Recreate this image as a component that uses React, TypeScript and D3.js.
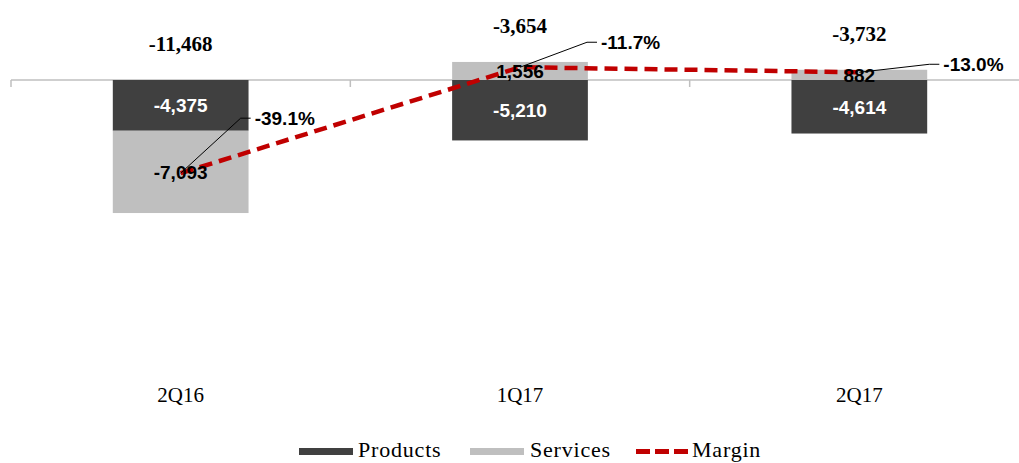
import * as d3 from "d3";
import React from "react";

// quarters and values (USD thousands), margin in %
const quarters = ["2Q16", "1Q17", "2Q17"];
const products = [-4375, -5210, -4614];
const services = [-7093, 1556, 882];
const margin = [-39.1, -11.7, -13.0];

// where Excel had the margin labels dragged to (px from the point)
const marginLabelNudge = [
  [74, -55],
  [81, -25],
  [84, -8],
];

const W = 1019;
const H = 463;
const serif = "'Liberation Serif', 'Times New Roman', serif";
const sans = "'Liberation Sans', Arial, sans-serif";

// excel shows a plain hyphen, not the unicode minus d3 uses
const fmt = (v: number) => d3.format(",")(v).replace("\u2212", "-");
const fmtPct = (v: number) => d3.format(".1f")(v).replace("\u2212", "-") + "%";

export default function App() {
  const x = d3
    .scaleBand<string>()
    .domain(quarters)
    .range([11, 1029])
    .paddingInner(0.6)
    .paddingOuter(0.3);

  const y = d3.scaleLinear().domain([-25000, 5000]).range([370, 22]);
  const y2 = d3.scaleLinear().domain([-90, 0]).range([370, 22]);

  const cx = (q: string) => (x(q) as number) + x.bandwidth() / 2;

  const line = d3
    .line<number>()
    .x((d, i) => cx(quarters[i]))
    .y((d) => y2(d));

  const totals = quarters.map((q, i) => products[i] + services[i]);
  const step = x.step();
  const ticks = d3.range(quarters.length + 1).map((i) => 11 + i * step);

  return (
    <svg
      width={W}
      height={H}
      style={{ position: "absolute", left: 0, top: 0, background: "#fff" }}
    >
      {/* category axis */}
      <line x1={11} x2={W} y1={y(0)} y2={y(0)} stroke="#bfbfbf" strokeWidth={1.5} />
      {ticks.map((t, i) => (
        <line key={i} x1={t} x2={t} y1={y(0)} y2={y(0) + 7} stroke="#bfbfbf" strokeWidth={1.5} />
      ))}

      {/* bars: products go down from zero, services stack after */}
      {quarters.map((q, i) => {
        const p = products[i];
        const s = services[i];
        const sBase = s < 0 ? p : 0;
        return (
          <g key={q}>
            <rect
              x={x(q)}
              width={x.bandwidth()}
              y={y(0)}
              height={y(p) - y(0)}
              fill="#404040"
            />
            <rect
              x={x(q)}
              width={x.bandwidth()}
              y={Math.min(y(sBase), y(sBase + s))}
              height={Math.abs(y(sBase + s) - y(sBase))}
              fill="#bfbfbf"
            />
          </g>
        );
      })}

      {/* margin line */}
      <path
        d={line(margin) || ""}
        fill="none"
        stroke="#c00000"
        strokeWidth={4.5}
        strokeDasharray="13 7"
      />

      {/* bar labels */}
      {quarters.map((q, i) => {
        const p = products[i];
        const s = services[i];
        const sBase = s < 0 ? p : 0;
        const sMid = (y(sBase) + y(sBase + s)) / 2;
        return (
          <g key={q} fontFamily={sans} fontWeight="bold" fontSize={19} textAnchor="middle">
            <text x={cx(q)} y={y(p / 2) + 7} fill="#fff">
              {fmt(p)}
            </text>
            <text x={cx(q)} y={sMid + 7} fill="#000">
              {fmt(s)}
            </text>
          </g>
        );
      })}

      {/* totals */}
      {quarters.map((q, i) => (
        <text
          key={q}
          x={cx(q)}
          y={y(Math.max(0, services[i])) - 29}
          textAnchor="middle"
          fontFamily={serif}
          fontWeight="bold"
          fontSize={21}
        >
          {fmt(totals[i])}
        </text>
      ))}

      {/* margin labels with leader lines */}
      {quarters.map((q, i) => {
        const px = cx(q);
        const py = y2(margin[i]);
        const [dx, dy] = marginLabelNudge[i];
        return (
          <g key={q}>
            <polyline
              points={`${px},${py} ${px + dx - 14},${py + dy} ${px + dx - 4},${py + dy}`}
              fill="none"
              stroke="#000"
              strokeWidth={1}
            />
            <text
              x={px + dx}
              y={py + dy + 7}
              fontFamily={sans}
              fontWeight="bold"
              fontSize={19}
            >
              {fmtPct(margin[i])}
            </text>
          </g>
        );
      })}

      {/* category labels */}
      {quarters.map((q) => (
        <text key={q} x={cx(q)} y={402} textAnchor="middle" fontFamily={serif} fontSize={21}>
          {q}
        </text>
      ))}

      {/* legend */}
      <g fontFamily={serif} fontSize={22} letterSpacing={0.8}>
        <rect x={299} y={448} width={54} height={7} fill="#404040" />
        <text x={358} y={457}>Products</text>
        <rect x={470} y={448} width={54} height={7} fill="#bfbfbf" />
        <text x={530} y={457}>Services</text>
        <line
          x1={636}
          x2={692}
          y1={451.5}
          y2={451.5}
          stroke="#c00000"
          strokeWidth={5}
          strokeDasharray="14 5"
        />
        <text x={692} y={457}>Margin</text>
      </g>
    </svg>
  );
}
